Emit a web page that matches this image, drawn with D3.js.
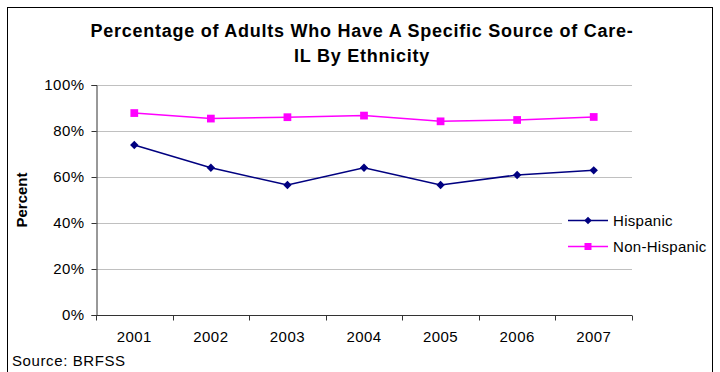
<!DOCTYPE html>
<html>
<head>
<meta charset="utf-8">
<script src="https://cdn.jsdelivr.net/npm/d3@7"></script>
<style>
  html, body { margin: 0; padding: 0; background: #fff; }
  svg { display: block; font-family: "Liberation Sans", Arial, sans-serif; }
</style>
</head>
<body>
<svg id="chart" width="720" height="372"></svg>
<script>
// Survey years and percentages by ethnicity (BRFSS, Illinois)
const years = ["2001", "2002", "2003", "2004", "2005", "2006", "2007"];
const hispanic = [73.9, 64.0, 56.5, 64.0, 56.5, 60.9, 62.9];
const nonHispanic = [87.8, 85.4, 86.0, 86.7, 84.2, 84.8, 86.1];
const yTicks = [0, 20, 40, 60, 80, 100];
const seriesNames = ["Hispanic", "Non-Hispanic"];
const seriesColors = ["#000080", "#FF00FF"];

const svg = d3.select("#chart");
const plot = { left: 96, right: 632, top: 85, bottom: 315 };
const labelSize = 15;
const labelSpacing = 0.45;

const x = d3.scaleBand().domain(years).range([plot.left, plot.right]);
const y = d3.scaleLinear().domain([0, 100]).range([plot.bottom, plot.top]);

// outer frame
svg.append("rect")
  .attr("x", 7.5).attr("y", 7.5).attr("width", 705).attr("height", 380)
  .attr("fill", "#fff").attr("stroke", "#000").attr("stroke-width", 1);

// title
const title = svg.append("text")
  .attr("text-anchor", "middle")
  .attr("font-weight", "bold").attr("font-size", 18)
  .attr("letter-spacing", 0.75).attr("fill", "#000");
title.append("tspan").attr("x", 362).attr("y", 37).text("Percentage of Adults Who Have A Specific Source of Care-");
title.append("tspan").attr("x", 362).attr("y", 62).text("IL By Ethnicity");

// horizontal gridlines
svg.append("g")
  .selectAll("line")
  .data(yTicks.filter(d => d > 0))
  .join("line")
  .attr("x1", plot.left).attr("x2", plot.right)
  .attr("y1", d => Math.round(y(d)) + 0.5).attr("y2", d => Math.round(y(d)) + 0.5)
  .attr("stroke", "#c0c0c0").attr("stroke-width", 1);

// y axis
const yAxis = svg.append("g")
  .attr("transform", `translate(${plot.left + 0.5},0)`)
  .call(d3.axisLeft(y).tickValues(yTicks).tickFormat(d => d + "%").tickSize(5).tickPadding(7));
yAxis.select(".domain").attr("stroke", "#333");
yAxis.selectAll(".tick line").attr("stroke", "#333");
yAxis.selectAll(".tick text").attr("font-size", labelSize).attr("fill", "#000")
  .attr("letter-spacing", labelSpacing)
  .attr("font-family", "\"Liberation Sans\", Arial, sans-serif");

// x axis with ticks between categories
const xAxis = svg.append("g")
  .attr("transform", `translate(0,${plot.bottom + 0.5})`);
xAxis.append("line")
  .attr("x1", plot.left).attr("x2", plot.right)
  .attr("stroke", "#333");
const boundaries = years.map(d => x(d)).concat([x(years[years.length - 1]) + x.bandwidth()]);
xAxis.selectAll(".sep")
  .data(boundaries)
  .join("line")
  .attr("class", "sep")
  .attr("x1", d => Math.round(d) + 0.5).attr("x2", d => Math.round(d) + 0.5)
  .attr("y1", 0).attr("y2", 5)
  .attr("stroke", "#333");
xAxis.selectAll(".lbl")
  .data(years)
  .join("text")
  .attr("class", "lbl")
  .attr("x", d => x(d) + x.bandwidth() / 2)
  .attr("y", 26)
  .attr("text-anchor", "middle")
  .attr("font-size", labelSize).attr("letter-spacing", labelSpacing).attr("fill", "#000")
  .text(d => d);

// y axis title
svg.append("text")
  .attr("transform", "translate(27,200) rotate(-90)")
  .attr("text-anchor", "middle")
  .attr("font-weight", "bold").attr("font-size", 15).attr("fill", "#000")
  .text("Percent");

// source note
svg.append("text")
  .attr("x", 12).attr("y", 366)
  .attr("font-size", labelSize).attr("letter-spacing", 0.6).attr("fill", "#000")
  .text("Source: BRFSS");

// series
const cx = d => x(d) + x.bandwidth() / 2;
const line = d3.line().x((d, i) => cx(years[i])).y(d => y(d));
const diamond = d3.symbol().type(d3.symbolDiamond2).size(45);
const square = d3.symbol().type(d3.symbolSquare).size(60);

function drawSeries(values, color, sym) {
  const g = svg.append("g");
  g.append("path")
    .datum(values)
    .attr("d", line)
    .attr("fill", "none").attr("stroke", color).attr("stroke-width", 1.5);
  g.selectAll("path.m")
    .data(values)
    .join("path")
    .attr("class", "m")
    .attr("transform", (d, i) => `translate(${cx(years[i])},${y(d)})`)
    .attr("d", sym)
    .attr("fill", color);
}
drawSeries(hispanic, seriesColors[0], diamond);
drawSeries(nonHispanic, seriesColors[1], square);

// legend
const legend = svg.append("g");
legend.append("rect")
  .attr("x", 562).attr("y", 206).attr("width", 148).attr("height", 54)
  .attr("fill", "#fff");
const legendSyms = [
  d3.symbol().type(d3.symbolDiamond2).size(36),
  d3.symbol().type(d3.symbolSquare).size(49)
];
seriesNames.forEach((name, i) => {
  const ly = 220.5 + i * 26;
  legend.append("line")
    .attr("x1", 568).attr("x2", 608).attr("y1", ly).attr("y2", ly)
    .attr("stroke", seriesColors[i]).attr("stroke-width", 1.5);
  legend.append("path")
    .attr("transform", `translate(588,${ly})`)
    .attr("d", legendSyms[i])
    .attr("fill", seriesColors[i]);
  legend.append("text")
    .attr("x", 613).attr("y", ly + 5.5)
    .attr("font-size", labelSize).attr("letter-spacing", 0.3).attr("fill", "#000")
    .text(name);
});
</script>
</body>
</html>
